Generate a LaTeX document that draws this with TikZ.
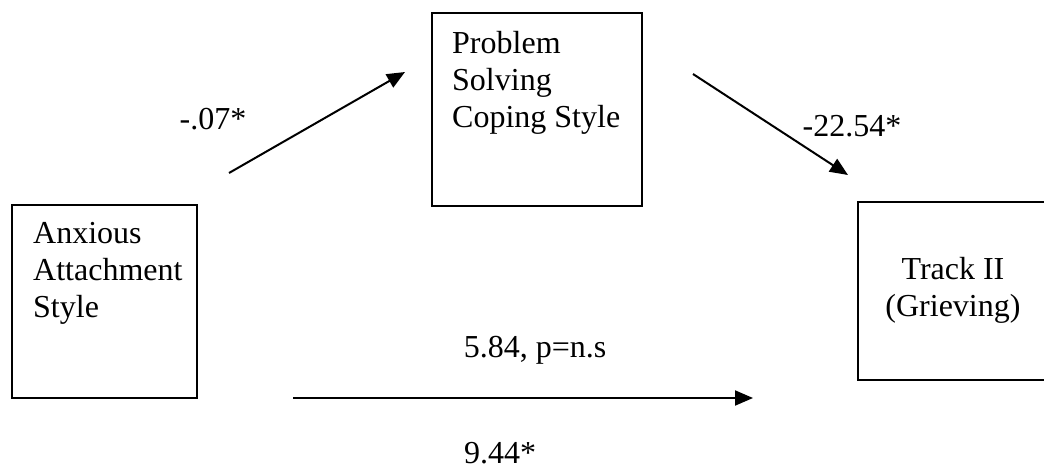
\documentclass[tikz,border=0pt]{standalone}
\usepackage{fontspec}
\setmainfont{Liberation Serif}
\usetikzlibrary{arrows.meta}
\begin{document}
\begin{tikzpicture}[x=1pt,y=-1pt,
  box/.style={draw=black,line width=1.5pt,inner sep=0pt},
  txt/.style={inner sep=0pt,font=\fontsize{32}{37}\selectfont},
  arr/.style={line width=2pt,-{Triangle[length=18pt,width=15pt]}}]
\useasboundingbox (0,0) rectangle (1044,469);
% boxes
\node[box,minimum width=185pt,minimum height=193pt] (anxbox) at (104.5,301.5) {};
\node[box,minimum width=210pt,minimum height=193pt] (psbox) at (537,109.5) {};
\node[box,minimum width=189pt,minimum height=178pt] (trbox) at (952.5,291) {};
% texts
\node[txt,anchor=north west,align=left] (anx) at (33,222) {Anxious\\Attachment\\Style};
\node[txt,anchor=north west,align=left] (ps) at (452,31) {Problem\\Solving\\Coping Style};
\node[txt,anchor=north,align=center] (tr) at (953,257) {Track II\\(Grieving)};
% connectors
\coordinate (a1s) at (229,173);
\coordinate (a1e) at (405,72);
\coordinate (a2s) at (693,74);
\coordinate (a2e) at (848,175);
\coordinate (a3s) at (293,398);
\coordinate (a3e) at (753,398);
\draw[arr] (a1s) -- (a1e);
\draw[arr] (a2s) -- (a2e);
\draw[arr] (a3s) -- (a3e);
% labels
\node[txt,anchor=base] (l1) at (213,129) {-.07*};
\node[txt,anchor=base] (l2) at (852,136) {-22.54*};
\node[txt,anchor=base] (l3) at (535,357) {5.84, p=n.s};
\node[txt,anchor=base] (l4) at (500,463) {9.44*};
\end{tikzpicture}
\end{document}
